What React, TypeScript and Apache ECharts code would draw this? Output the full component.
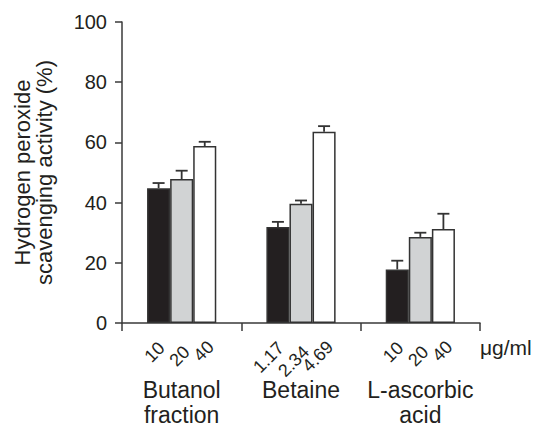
import React, { useEffect, useRef } from "react";
import * as echarts from "echarts";

const groups = ["Butanol\nfraction", "Betaine", "L-ascorbic\nacid"];
const blackValues = [44.8, 31.9, 17.8];
const grayValues = [47.8, 39.6, 28.6];
const whiteValues = [58.8, 63.5, 31.2];
const blackErr = [1.7, 1.7, 2.9];
const grayErr = [2.8, 1.1, 1.4];
const whiteErr = [1.4, 1.9, 5.1];
const blackDoses = ["10", "1.17", "10"];
const grayDoses = ["20", "2.34", "20"];
const whiteDoses = ["40", "4.69", "40"];
const yTicks = [0, 20, 40, 60, 80, 100];
const unitLabel = "μg/ml";
const yTitle = "Hydrogen peroxide\nscavenging activity (%)";

const INK = "#231f20";
const AXIS = "#3a3a3a";
const FONT = "'Liberation Sans', Arial, Helvetica, sans-serif";
const CAT_GAP = 0.42;
// label anchor offsets (px) per bar position within a group
const LABEL_DX = [3, 5, 6];
const LABEL_DY = [22, 26, 21];

export default function App() {
  const ref = useRef<HTMLDivElement>(null);
  useEffect(() => {
    if (!ref.current) return;
    const chart = echarts.init(ref.current, undefined, { renderer: "svg" });

    const barSeries = (name: string, data: number[], color: string) => ({
      name,
      type: "bar",
      data,
      barGap: "0%",
      barCategoryGap: CAT_GAP * 100 + "%",
      itemStyle: { color, borderColor: "#333333", borderWidth: 1.5 },
      z: 2,
    });

    const allVals = [blackValues, grayValues, whiteValues];
    const allErrs = [blackErr, grayErr, whiteErr];
    const allDoses = [blackDoses, grayDoses, whiteDoses];

    const errData: any[] = [];
    const doseData: any[] = [];
    allVals.forEach((vals, si) => {
      vals.forEach((v, ci) => {
        errData.push([ci, v, v + allErrs[si][ci], si]);
        doseData.push({ value: [ci, 0, si], name: allDoses[si][ci] });
      });
    });

    chart.setOption({
      animation: false,
      grid: { left: 122, right: 57, top: 22, bottom: 102, containLabel: false },
      textStyle: { fontFamily: FONT },
      xAxis: {
        type: "category",
        data: groups,
        axisLine: { lineStyle: { color: AXIS, width: 1.5 } },
        axisTick: { show: true, length: 8, lineStyle: { color: AXIS, width: 1.5 } },
        axisLabel: {
          interval: 0,
          margin: 54,
          fontSize: 23,
          lineHeight: 25,
          color: INK,
          fontFamily: FONT,
        },
      },
      yAxis: {
        type: "value",
        min: yTicks[0],
        max: yTicks[yTicks.length - 1],
        interval: 20,
        name: yTitle,
        nameLocation: "middle",
        nameGap: 67,
        nameTextStyle: { fontSize: 22, lineHeight: 22, color: INK, fontFamily: FONT },
        axisLine: { show: true, lineStyle: { color: AXIS, width: 1.5 } },
        axisTick: { show: true, length: 7, lineStyle: { color: AXIS, width: 1.5 } },
        axisLabel: { margin: 15, fontSize: 20, color: INK, fontFamily: FONT },
        splitLine: { show: false },
      },
      graphic: [
        {
          type: "text",
          left: 480,
          top: 337,
          style: { text: unitLabel, fontSize: 21, fill: INK, fontFamily: FONT },
        },
      ],
      series: [
        barSeries("black", blackValues, "#231f20"),
        barSeries("gray", grayValues, "#d1d3d4"),
        barSeries("white", whiteValues, "#ffffff"),
        {
          type: "custom",
          z: 5,
          clip: false,
          data: errData,
          renderItem: (params: any, api: any) => {
            const ci = api.value(0);
            const mean = api.value(1);
            const top = api.value(2);
            const si = api.value(3);
            const band = api.size([1, 0])[0];
            const bw = (band * (1 - CAT_GAP)) / 3;
            const c0 = api.coord([ci, mean]);
            const c1 = api.coord([ci, top]);
            const x = c0[0] + (si - 1) * bw;
            const style = { stroke: "#333333", lineWidth: 1.8 };
            return {
              type: "group",
              children: [
                { type: "line", shape: { x1: x, y1: c0[1], x2: x, y2: c1[1] }, style },
                { type: "line", shape: { x1: x - 6, y1: c1[1], x2: x + 6, y2: c1[1] }, style },
              ],
            };
          },
        },
        {
          type: "custom",
          z: 6,
          clip: false,
          data: doseData,
          renderItem: (params: any, api: any) => {
            const ci = api.value(0);
            const si = api.value(2);
            const band = api.size([1, 0])[0];
            const bw = (band * (1 - CAT_GAP)) / 3;
            const c0 = api.coord([ci, 0]);
            const x = c0[0] + (si - 1) * bw + LABEL_DX[si];
            const y = c0[1] + LABEL_DY[si];
            const text = doseData[params.dataIndex].name;
            return {
              type: "text",
              x,
              y,
              rotation: Math.PI / 4,
              style: {
                text,
                fontSize: 18,
                fontFamily: FONT,
                fill: INK,
                align: "right",
                verticalAlign: "middle",
              },
            };
          },
        },
      ],
    });
    return () => chart.dispose();
  }, []);
  return (
    <div
      ref={ref}
      style={{ position: "absolute", left: 0, top: 0, width: 537, height: 427, background: "#fff" }}
    />
  );
}
